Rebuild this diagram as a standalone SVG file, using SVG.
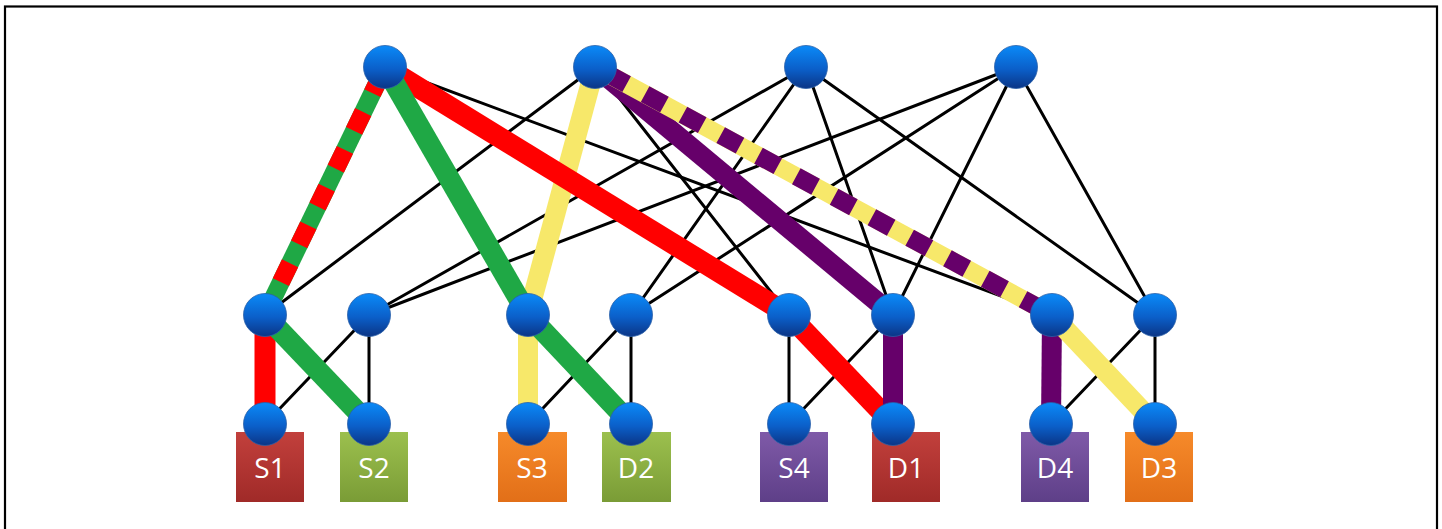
<svg xmlns="http://www.w3.org/2000/svg" width="1442" height="529" viewBox="0 0 1442 529">
  <defs>
    <linearGradient id="ball" x1="0" y1="0" x2="0" y2="1">
      <stop offset="0" stop-color="#0a8af8"/>
      <stop offset="0.55" stop-color="#0b5fc9"/>
      <stop offset="1" stop-color="#0b3586"/>
    </linearGradient>
    <linearGradient id="gRed" x1="0" y1="0" x2="0" y2="1">
      <stop offset="0" stop-color="#c2403c"/>
      <stop offset="1" stop-color="#a02a28"/>
    </linearGradient>
    <linearGradient id="gGreen" x1="0" y1="0" x2="0" y2="1">
      <stop offset="0" stop-color="#9cc04e"/>
      <stop offset="1" stop-color="#7a9c36"/>
    </linearGradient>
    <linearGradient id="gOrange" x1="0" y1="0" x2="0" y2="1">
      <stop offset="0" stop-color="#f68a2a"/>
      <stop offset="1" stop-color="#e26f18"/>
    </linearGradient>
    <linearGradient id="gPurple" x1="0" y1="0" x2="0" y2="1">
      <stop offset="0" stop-color="#7f5aa8"/>
      <stop offset="1" stop-color="#5e3f88"/>
    </linearGradient>
  </defs>
  <style>
    .frame { fill: none; stroke: #000; stroke-width: 2.2; }
    .link { stroke: #000; stroke-width: 3; stroke-linecap: round; }
    .red { stroke: #ff0000; stroke-width: 21; }
    .green { stroke: #1fa845; stroke-width: 21; }
    .yellow { stroke: #f7e86a; stroke-width: 20; }
    .purple { stroke: #66006a; stroke-width: 20; }
    .dash-red { stroke: #ff0000; stroke-width: 18; stroke-dasharray: 21 21; }
    .dash-green { stroke: #1fa845; stroke-width: 18; }
    .dash-yellow { stroke: #f7e86a; stroke-width: 18; }
    .dash-purple { stroke: #66006a; stroke-width: 18; stroke-dasharray: 22 21; }
    .node { fill: url(#ball); stroke: #2a5fa8; stroke-width: 0.8; }
    .host-label { fill: #ffffff; font-family: "Open Sans", "Liberation Sans", sans-serif; font-size: 28px; text-anchor: middle; }
  </style>

  <rect class="frame" x="5" y="6.5" width="1432" height="600"/>

  <g id="connectors">
    <!-- core to aggregation links -->
    <line class="link" x1="385" y1="67" x2="1052" y2="315"/>
    <line class="link" x1="595" y1="67" x2="265" y2="315"/>
    <line class="link" x1="595" y1="67" x2="789" y2="315"/>
    <line class="link" x1="806" y1="67" x2="369" y2="315"/>
    <line class="link" x1="806" y1="67" x2="631" y2="315"/>
    <line class="link" x1="806" y1="67" x2="893" y2="315"/>
    <line class="link" x1="806" y1="67" x2="1155" y2="315"/>
    <line class="link" x1="1016" y1="67" x2="369" y2="315"/>
    <line class="link" x1="1016" y1="67" x2="631" y2="315"/>
    <line class="link" x1="1016" y1="67" x2="893" y2="315"/>
    <line class="link" x1="1016" y1="67" x2="1155" y2="315"/>
    <!-- aggregation to edge links -->
    <line class="link" x1="369" y1="315" x2="265" y2="424"/>
    <line class="link" x1="369" y1="315" x2="369" y2="424"/>
    <line class="link" x1="631" y1="315" x2="528" y2="424"/>
    <line class="link" x1="631" y1="315" x2="631" y2="424"/>
    <line class="link" x1="789" y1="315" x2="789" y2="424"/>
    <line class="link" x1="893" y1="315" x2="789" y2="424"/>
    <line class="link" x1="1155" y1="315" x2="1051" y2="424"/>
    <line class="link" x1="1155" y1="315" x2="1155" y2="424"/>

    <!-- highlighted flows -->
    <line class="yellow" x1="595" y1="67" x2="528" y2="315"/>
    <line class="yellow" x1="528" y1="315" x2="528" y2="424"/>
    <line class="red" x1="385" y1="67" x2="789" y2="315"/>
    <line class="red" x1="789" y1="315" x2="893" y2="424"/>
    <line class="red" x1="265" y1="315" x2="265" y2="424"/>
    <line class="green" x1="385" y1="67" x2="528" y2="315"/>
    <line class="green" x1="528" y1="315" x2="631" y2="424"/>
    <line class="green" x1="265" y1="315" x2="369" y2="424"/>
    <line class="dash-green" x1="385" y1="67" x2="265" y2="315"/>
    <line class="dash-red" x1="385" y1="67" x2="265" y2="315" stroke-dashoffset="-8"/>
    <line class="purple" x1="595" y1="67" x2="893" y2="315"/>
    <line class="purple" x1="893" y1="315" x2="893" y2="424"/>
    <line class="purple" x1="1052" y1="315" x2="1051" y2="424"/>
    <line class="dash-yellow" x1="595" y1="67" x2="1052" y2="315"/>
    <line class="dash-purple" x1="595" y1="67" x2="1052" y2="315" stroke-dashoffset="-14"/>
    <line class="yellow" x1="1052" y1="315" x2="1155" y2="424"/>
  </g>

  <!-- host boxes -->
  <g id="host-S1"><rect x="236" y="432" width="68" height="70" fill="url(#gRed)"/><text class="host-label" x="270" y="478">S1</text></g>
  <g id="host-S2"><rect x="340" y="432" width="68" height="70" fill="url(#gGreen)"/><text class="host-label" x="374" y="478">S2</text></g>
  <g id="host-S3"><rect x="498" y="432" width="69" height="70" fill="url(#gOrange)"/><text class="host-label" x="532" y="478">S3</text></g>
  <g id="host-D2"><rect x="602" y="432" width="69" height="70" fill="url(#gGreen)"/><text class="host-label" x="636" y="478">D2</text></g>
  <g id="host-S4"><rect x="760" y="432" width="68" height="70" fill="url(#gPurple)"/><text class="host-label" x="794" y="478">S4</text></g>
  <g id="host-D1"><rect x="872" y="432" width="68" height="70" fill="url(#gRed)"/><text class="host-label" x="906" y="478">D1</text></g>
  <g id="host-D4"><rect x="1021" y="432" width="68" height="70" fill="url(#gPurple)"/><text class="host-label" x="1055" y="478">D4</text></g>
  <g id="host-D3"><rect x="1125" y="432" width="68" height="70" fill="url(#gOrange)"/><text class="host-label" x="1159" y="478">D3</text></g>

  <!-- core switches -->
  <g id="core-1"><circle class="node" cx="385" cy="67" r="21.5"/></g>
  <g id="core-2"><circle class="node" cx="595" cy="67" r="21.5"/></g>
  <g id="core-3"><circle class="node" cx="806" cy="67" r="21.5"/></g>
  <g id="core-4"><circle class="node" cx="1016" cy="67" r="21.5"/></g>

  <!-- aggregation switches -->
  <g id="agg-1"><circle class="node" cx="265" cy="315" r="21.5"/></g>
  <g id="agg-2"><circle class="node" cx="369" cy="315" r="21.5"/></g>
  <g id="agg-3"><circle class="node" cx="528" cy="315" r="21.5"/></g>
  <g id="agg-4"><circle class="node" cx="631" cy="315" r="21.5"/></g>
  <g id="agg-5"><circle class="node" cx="789" cy="315" r="21.5"/></g>
  <g id="agg-6"><circle class="node" cx="893" cy="315" r="21.5"/></g>
  <g id="agg-7"><circle class="node" cx="1052" cy="315" r="21.5"/></g>
  <g id="agg-8"><circle class="node" cx="1155" cy="315" r="21.5"/></g>

  <!-- edge switches -->
  <g id="edge-1"><circle class="node" cx="265" cy="424" r="21.5"/></g>
  <g id="edge-2"><circle class="node" cx="369" cy="424" r="21.5"/></g>
  <g id="edge-3"><circle class="node" cx="528" cy="424" r="21.5"/></g>
  <g id="edge-4"><circle class="node" cx="631" cy="424" r="21.5"/></g>
  <g id="edge-5"><circle class="node" cx="789" cy="424" r="21.5"/></g>
  <g id="edge-6"><circle class="node" cx="893" cy="424" r="21.5"/></g>
  <g id="edge-7"><circle class="node" cx="1051" cy="424" r="21.5"/></g>
  <g id="edge-8"><circle class="node" cx="1155" cy="424" r="21.5"/></g>
</svg>
